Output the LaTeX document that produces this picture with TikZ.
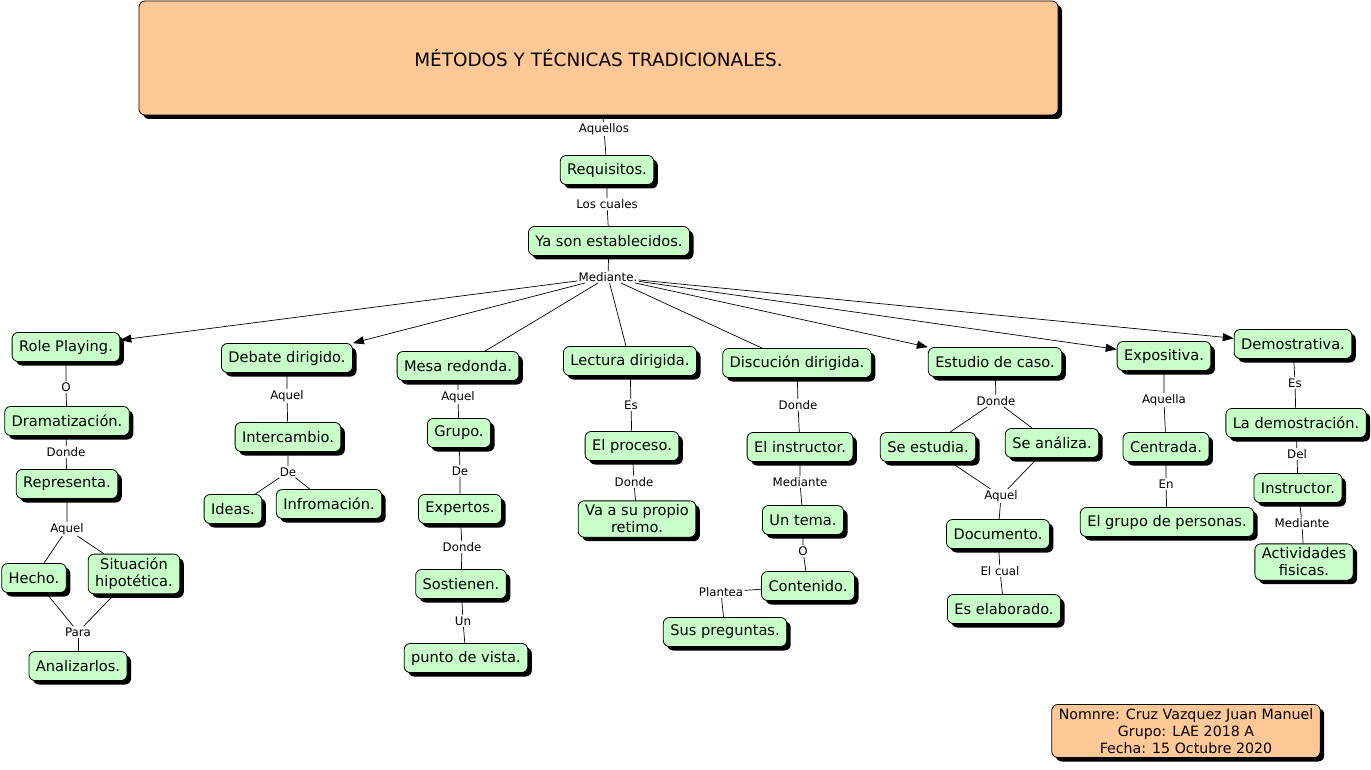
\documentclass[tikz,border=0pt]{standalone}
\usepackage{fontspec}
\setmainfont{DejaVu Sans}
\usetikzlibrary{shadows,arrows.meta}
\definecolor{nodegreen}{RGB}{200,255,200}
\definecolor{peach}{RGB}{255,200,150}
\begin{document}
\begin{tikzpicture}[x=1pt,y=-1pt,
 box/.style={draw=black, line width=0.8pt, rounded corners=6pt, align=center,
   drop shadow={shadow xshift=4pt, shadow yshift=-4pt, fill=black, opacity=1}},
 concept/.style={box, fill=nodegreen, inner xsep=7pt, inner ysep=4pt, minimum height=29pt,
   font=\fontsize{14.6}{17}\selectfont},
 lbl/.style={fill=white, inner sep=1.2pt, font=\fontsize{11.8}{13}\selectfont},
 link/.style={draw=black, line width=0.7pt},
 arr/.style={link, -{Triangle[length=11pt,width=8pt]}},
]
\useasboundingbox[fill=white] (0,0) rectangle (1371,770);

% title
\node[box, fill=peach, minimum width=919pt, minimum height=114pt, font=\fontsize{18.4}{21}\selectfont] (title) at (598.5,58) {MÉTODOS Y TÉCNICAS TRADICIONALES.};

% main trunk
\node[lbl] (l1) at (604,129) {Aquellos};
\node[concept] (req) at (607,170) {Requisitos.};
\node[lbl] (l2) at (607,204) {Los cuales};
\node[concept] (ya) at (609,241) {Ya son establecidos.};
\node[lbl] (med) at (608,277) {Mediante.};

% row 1
\node[concept] (role) at (66,347) {Role Playing.};
\node[concept] (deb) at (287,358) {Debate dirigido.};
\node[concept] (mesa) at (458,366) {Mesa redonda.};
\node[concept] (lec) at (630,361) {Lectura dirigida.};
\node[concept] (disc) at (797,363) {Discución dirigida.};
\node[concept] (est) at (995,362) {Estudio de caso.};
\node[concept] (expo) at (1164,356) {Expositiva.};
\node[concept] (demo) at (1293,344) {Demostrativa.};

% Role playing column
\node[lbl] (rl1) at (66,387) {O};
\node[concept] (dram) at (67,421) {Dramatización.};
\node[lbl] (rl2) at (66,452) {Donde};
\node[concept] (rep) at (67,484) {Representa.};
\node[lbl] (rl3) at (67,529) {Aquel};
\node[concept] (hecho) at (34,578) {Hecho.};
\node[concept] (sit) at (134,574) {Situación\\hipotética.};
\node[lbl] (rl4) at (78,632) {Para};
\node[concept] (anal) at (78,666) {Analizarlos.};

% Debate column
\node[lbl] (dl1) at (287,396) {Aquel};
\node[concept] (inter) at (288,437) {Intercambio.};
\node[lbl] (dl2) at (288,472) {De};
\node[concept] (ideas) at (233,509) {Ideas.};
\node[concept] (info) at (329,504) {Infromación.};

% Mesa column
\node[lbl] (ml1) at (458,397) {Aquel};
\node[concept] (grupo) at (459,433) {Grupo.};
\node[lbl] (ml2) at (460,471) {De};
\node[concept] (expe) at (460,509) {Expertos.};
\node[lbl] (ml3) at (462,547) {Donde};
\node[concept] (sost) at (461,584) {Sostienen.};
\node[lbl] (ml4) at (463,621) {Un};
\node[concept] (punto) at (466,658) {punto de vista.};

% Lectura column
\node[lbl] (ll1) at (631,405) {Es};
\node[concept] (proc) at (632,446) {El proceso.};
\node[lbl] (ll2) at (634,482) {Donde};
\node[concept] (va) at (637,519) {Va a su propio\\retimo.};

% Discucion column
\node[lbl] (sl1) at (798,405) {Donde};
\node[concept] (instr) at (800,447) {El instructor.};
\node[lbl] (sl2) at (800,482) {Mediante};
\node[concept] (tema) at (803,520) {Un tema.};
\node[lbl] (sl3) at (803,551) {O};
\node[concept] (cont) at (808,586) {Contenido.};
\node[lbl] (sl4) at (721,592) {Plantea};
\node[concept] (preg) at (725,632) {Sus preguntas.};

% Estudio column
\node[lbl] (el1) at (996,401) {Donde};
\node[concept] (sest) at (928,447) {Se estudia.};
\node[concept] (sana) at (1052,443) {Se análiza.};
\node[lbl] (el2) at (1001,496) {Aquel};
\node[concept] (doc) at (998,534) {Documento.};
\node[lbl] (el3) at (1000,571) {El cual};
\node[concept] (elab) at (1004,609) {Es elaborado.};

% Expositiva column
\node[lbl] (xl1) at (1164,400) {Aquella};
\node[concept] (cent) at (1166,447) {Centrada.};
\node[lbl] (xl2) at (1166,484) {En};
\node[concept] (gper) at (1167,522) {El grupo de personas.};

% Demostrativa column
\node[lbl] (ol1) at (1295,383) {Es};
\node[concept] (lad) at (1296,423) {La demostración.};
\node[lbl] (ol2) at (1297,454) {Del};
\node[concept] (ins2) at (1298,488) {Instructor.};
\node[lbl] (ol3) at (1302,523) {Mediante};
\node[concept] (act) at (1304,562) {Actividades\\fisicas.};

% footer
\node[box, fill=peach, inner xsep=7pt, inner ysep=4pt, font=\fontsize{14.2}{17}\selectfont] (foot) at (1186,731) {Nomnre: Cruz Vazquez Juan Manuel\\Grupo: LAE 2018 A\\Fecha: 15 Octubre 2020};

% connectors
\draw[link] (title) -- (l1) -- (req) -- (l2) -- (ya) -- (med);
\draw[arr] (med) -- (role);
\draw[arr] (med) -- (deb.north east);
\draw[link] (med) -- (mesa.north -| 485,0);
\draw[link] (med) -- (lec.north -| 626,0);
\draw[link] (med) -- (disc.north -| 762,0);
\draw[arr] (med) -- (est.north west);
\draw[arr] (med) -- (expo);
\draw[arr] (med) -- (demo);

\draw[link] (role) -- (rl1) -- (dram) -- (rl2) -- (rep) -- (rl3);
\draw[link] (rl3) -- (hecho);
\draw[link] (rl3) -- (sit);
\draw[link] (hecho) -- (rl4);
\draw[link] (sit) -- (rl4);
\draw[link] (rl4) -- (anal);

\draw[link] (deb) -- (dl1) -- (inter) -- (dl2);
\draw[link] (dl2) -- (ideas);
\draw[link] (dl2) -- (info);

\draw[link] (mesa) -- (ml1) -- (grupo) -- (ml2) -- (expe) -- (ml3) -- (sost) -- (ml4) -- (punto);

\draw[link] (lec) -- (ll1) -- (proc) -- (ll2) -- (va);

\draw[link] (disc) -- (sl1) -- (instr) -- (sl2) -- (tema) -- (sl3) -- (cont);
\draw[link] (cont) -- (sl4);
\draw[link] (sl4) -- (preg);

\draw[link] (est) -- (el1);
\draw[link] (el1) -- (sest);
\draw[link] (el1) -- (sana);
\draw[link] (sest) -- (el2);
\draw[link] (sana) -- (el2);
\draw[link] (el2) -- (doc) -- (el3) -- (elab);

\draw[link] (expo) -- (xl1) -- (cent) -- (xl2) -- (gper);

\draw[link] (demo) -- (ol1) -- (lad) -- (ol2) -- (ins2) -- (ol3) -- (act);
\end{tikzpicture}
\end{document}
